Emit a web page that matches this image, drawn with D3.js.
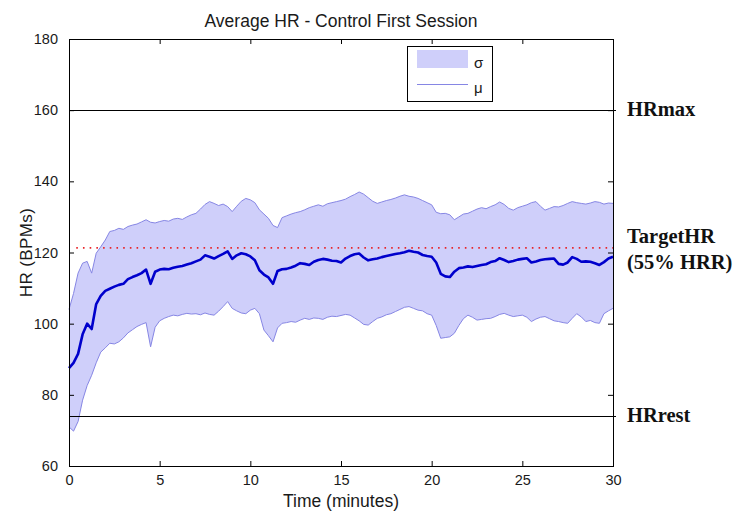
<!DOCTYPE html>
<html>
<head>
<meta charset="utf-8">
<script src="https://cdn.jsdelivr.net/npm/d3@7"></script>
<style>
  html, body { margin: 0; padding: 0; background: #fff; }
  svg { display: block; }
</style>
</head>
<body>
<svg id="chart" width="734" height="515"></svg>
<script>
// Heart rate across the session, sampled every quarter minute (0 .. 30 min)
const sampleStep = 0.25;

// Mean heart rate (BPM)
const meanHR = [
  87.5, 89.0, 91.5, 97.0, 100.0, 98.5, 105.5, 107.8,
  109.2, 109.8, 110.4, 110.9, 111.2, 112.5, 113.1, 113.6,
  114.2, 115.2, 111.2, 114.6, 115.2, 115.4, 115.3, 115.7,
  116.0, 116.2, 116.6, 117.0, 117.5, 118.0, 119.2, 118.8,
  118.3, 119.0, 119.6, 120.3, 118.2, 119.2, 119.8, 119.5,
  118.9, 117.8, 115.0, 113.8, 113.0, 111.2, 114.8, 115.3,
  115.4, 115.8, 116.3, 117.0, 116.8, 116.5, 117.4, 117.9,
  118.2, 118.0, 117.7, 117.6, 117.2, 118.3, 119.0, 119.5,
  119.7, 118.6, 117.8, 118.1, 118.3, 118.7, 119.0, 119.3,
  119.6, 119.8, 120.1, 120.5, 120.2, 120.0, 119.3, 119.0,
  118.8, 117.2, 114.0, 113.3, 113.1, 114.6, 115.6, 115.8,
  116.1, 115.9, 116.2, 116.5, 116.7, 117.3, 117.6, 118.4,
  117.9, 117.3, 117.6, 118.0, 118.2, 118.4, 117.2, 117.5,
  117.9, 118.1, 118.2, 118.3, 116.8, 116.6, 117.2, 118.7,
  118.2, 117.4, 117.5, 117.4, 117.0, 116.5, 117.3, 118.3,
  118.8
];

// Mean + one standard deviation
const upperHR = [
  104.0, 108.5, 114.2, 117.0, 117.5, 114.2, 119.8, 121.6,
  123.5, 125.9, 126.2, 126.8, 126.5, 127.3, 127.7, 128.0,
  128.6, 129.2, 128.5, 128.3, 128.7, 129.0, 128.8, 129.4,
  129.6, 129.3, 130.0, 130.6, 131.0, 132.2, 133.5, 134.3,
  133.8, 133.2, 133.6, 132.9, 131.5, 133.0, 134.4, 135.2,
  134.8, 134.0, 132.0, 130.8, 129.6, 127.6, 127.0, 129.8,
  130.3, 130.8, 131.2, 131.5, 132.0, 132.6, 133.0, 133.4,
  133.0, 133.7, 134.0, 134.3, 134.6, 135.0, 135.7, 136.3,
  137.0, 136.4, 135.4, 134.4, 133.8, 134.2, 134.6, 134.9,
  135.3, 135.8, 136.2, 135.8, 135.6, 135.2, 134.6, 134.0,
  133.4, 131.3, 130.9, 131.0, 130.6, 129.2, 130.0, 130.8,
  131.0, 131.6, 132.2, 132.6, 132.3, 132.9, 133.4, 134.2,
  133.5, 132.4, 131.9, 132.6, 133.0, 133.4, 134.0, 134.3,
  133.0, 131.9, 132.4, 132.9, 132.8, 133.2, 133.8, 134.3,
  134.0, 133.8, 133.6, 133.9, 134.3, 134.1, 133.6, 133.9,
  133.8
];

// Mean - one standard deviation
const lowerHR = [
  71.0, 69.8, 72.5, 78.5, 82.6, 85.5, 89.0, 92.0,
  93.2, 94.5, 94.3, 94.9, 96.0, 97.4, 98.3, 99.2,
  99.8, 100.3, 93.5, 99.0, 100.8, 101.5, 102.0, 102.4,
  102.2, 102.6, 102.9, 102.7, 102.8, 102.5, 103.0, 102.6,
  102.4, 103.5, 104.8, 106.2, 104.3, 103.6, 103.0, 102.8,
  103.8, 104.3, 102.8, 98.2, 96.6, 94.9, 98.8, 100.1,
  100.3, 100.6, 100.4, 101.0, 101.5, 101.2, 101.6, 101.5,
  101.2, 101.8, 102.1, 102.0, 102.3, 102.6, 102.4, 101.6,
  100.8, 99.8, 99.6, 100.6, 101.5, 101.9, 102.5, 102.8,
  103.4, 104.0, 104.6, 104.8, 104.3, 103.8, 103.6, 102.8,
  102.4, 99.5, 95.9, 96.1, 96.3, 97.3, 99.5, 101.4,
  102.4, 101.8, 101.0, 101.2, 101.4, 101.5, 102.0, 102.6,
  102.9, 102.4, 102.0, 102.2, 102.4, 101.8, 100.6, 101.3,
  101.8, 102.0, 101.4, 100.8, 100.6, 100.3, 100.1, 101.5,
  102.8, 101.9, 100.6, 100.9, 100.3, 100.1, 102.8, 103.6,
  104.3
];

// Reference levels
const hrMax = 160;
const hrRest = 74;
const targetFraction = 0.55;
const targetHR = hrRest + targetFraction * (hrMax - hrRest);

const xTicks = [0, 5, 10, 15, 20, 25, 30];
const yTicks = [60, 80, 100, 120, 140, 160, 180];

const titleText = "Average HR - Control First Session";
const xLabelText = "Time (minutes)";
const yLabelText = "HR (BPMs)";
const legendLabels = ["\u03c3", "\u03bc"];

// ---- layout ----
const margin = { left: 69, top: 39, right: 121, bottom: 49 };
const W = 734, H = 515;
const pw = W - margin.left - margin.right;
const ph = H - margin.top - margin.bottom;

const bandFill = "#cfcffa";
const bandEdge = "#8686e4";
const meanColor = "#0000cc";
const sansFont = "'Liberation Sans', Arial, sans-serif";
const serifFont = "'Liberation Serif', 'Times New Roman', serif";

const svg = d3.select("#chart");
const g = svg.append("g").attr("transform", `translate(${margin.left},${margin.top})`);

const x = d3.scaleLinear().domain([0, 30]).range([0, pw]);
const y = d3.scaleLinear().domain([60, 180]).range([ph, 0]);

const rows = meanHR.map((m, i) => ({
  t: i * sampleStep, mean: m, hi: upperHR[i], lo: lowerHR[i]
}));

// sigma band
g.append("path")
  .datum(rows)
  .attr("fill", bandFill)
  .attr("d", d3.area().x(d => x(d.t)).y0(d => y(d.lo)).y1(d => y(d.hi)));

const edgeLine = key => d3.line().x(d => x(d.t)).y(d => y(d[key]));
["hi", "lo"].forEach(k => {
  g.append("path").datum(rows)
    .attr("fill", "none").attr("stroke", bandEdge).attr("stroke-width", 1)
    .attr("d", edgeLine(k));
});

// target heart rate (dotted)
g.append("line")
  .attr("x1", x(0.4)).attr("x2", x(30))
  .attr("y1", y(targetHR)).attr("y2", y(targetHR))
  .attr("stroke", "#e8262a").attr("stroke-width", 1.6)
  .attr("stroke-dasharray", "1.6,5.1");

// mean
g.append("path").datum(rows)
  .attr("fill", "none").attr("stroke", meanColor).attr("stroke-width", 2.6)
  .attr("stroke-linejoin", "round")
  .attr("d", edgeLine("mean"));

// HRmax / HRrest reference lines
[hrMax, hrRest].forEach(v => {
  g.append("line")
    .attr("x1", x(0)).attr("x2", x(30) + 3)
    .attr("y1", Math.round(y(v)) + 0.5).attr("y2", Math.round(y(v)) + 0.5)
    .attr("stroke", "#000").attr("stroke-width", 1);
});

// axes: box with inward ticks on all four sides
const tickLen = 5;
const axisStyle = sel => {
  sel.select(".domain").remove();
  sel.selectAll(".tick line").attr("stroke", "#000");
  sel.selectAll(".tick text")
    .attr("font-family", sansFont).attr("font-size", 14.5).attr("fill", "#1a1a1a");
};

g.append("g").attr("transform", `translate(0,${ph})`)
  .call(d3.axisBottom(x).tickValues(xTicks).tickSizeInner(-tickLen).tickSizeOuter(0).tickPadding(9))
  .call(axisStyle);
g.append("g")
  .call(d3.axisTop(x).tickValues(xTicks).tickSizeInner(-tickLen).tickSizeOuter(0).tickFormat(""))
  .call(axisStyle);
g.append("g")
  .call(d3.axisLeft(y).tickValues(yTicks).tickSizeInner(-tickLen).tickSizeOuter(0).tickPadding(11))
  .call(axisStyle);
g.append("g").attr("transform", `translate(${pw},0)`)
  .call(d3.axisRight(y).tickValues(yTicks).tickSizeInner(-tickLen).tickSizeOuter(0).tickFormat(""))
  .call(axisStyle);

g.append("rect")
  .attr("x", 0.5).attr("y", 0.5).attr("width", pw).attr("height", ph)
  .attr("fill", "none").attr("stroke", "#000").attr("stroke-width", 1);

// title and axis labels
svg.append("text")
  .attr("x", margin.left + pw / 2).attr("y", 27)
  .attr("text-anchor", "middle")
  .attr("font-family", sansFont).attr("font-size", 17.5).attr("fill", "#1a1a1a")
  .text(titleText);

svg.append("text")
  .attr("x", margin.left + pw / 2).attr("y", 507)
  .attr("text-anchor", "middle")
  .attr("font-family", sansFont).attr("font-size", 17.5).attr("fill", "#1a1a1a")
  .text(xLabelText);

svg.append("text")
  .attr("transform", `translate(32,${margin.top + ph / 2}) rotate(-90)`)
  .attr("text-anchor", "middle")
  .attr("font-family", sansFont).attr("font-size", 17).attr("fill", "#1a1a1a")
  .attr("letter-spacing", 0.4)
  .text(yLabelText);

// legend
const lg = svg.append("g").attr("transform", "translate(407,46)");
lg.append("rect").attr("x", 0.5).attr("y", 0.5).attr("width", 85).attr("height", 55)
  .attr("fill", "#fff").attr("stroke", "#000").attr("stroke-width", 1);
lg.append("rect").attr("x", 10).attr("y", 4).attr("width", 51).attr("height", 18)
  .attr("fill", bandFill);
lg.append("line").attr("x1", 10).attr("x2", 61).attr("y1", 38.5).attr("y2", 38.5)
  .attr("stroke", bandEdge).attr("stroke-width", 1);
lg.append("text").attr("x", 67).attr("y", 22)
  .attr("font-family", sansFont).attr("font-size", 15).attr("fill", "#1a1a1a")
  .text(legendLabels[0]);
lg.append("text").attr("x", 67).attr("y", 47)
  .attr("font-family", sansFont).attr("font-size", 15).attr("fill", "#1a1a1a")
  .text(legendLabels[1]);

// reference level annotations
const notes = [
  { v: hrMax, lines: ["HRmax"], dy: [6] },
  { v: targetHR, lines: ["TargetHR", "(55% HRR)"], dy: [-5, 21] },
  { v: hrRest, lines: ["HRrest"], dy: [6] }
];
notes.forEach(n => {
  n.lines.forEach((s, i) => {
    svg.append("text")
      .attr("x", 627).attr("y", margin.top + y(n.v) + n.dy[i])
      .attr("font-family", serifFont).attr("font-weight", "bold")
      .attr("font-size", 20.5).attr("fill", "#111")
      .text(s);
  });
});
</script>
</body>
</html>
